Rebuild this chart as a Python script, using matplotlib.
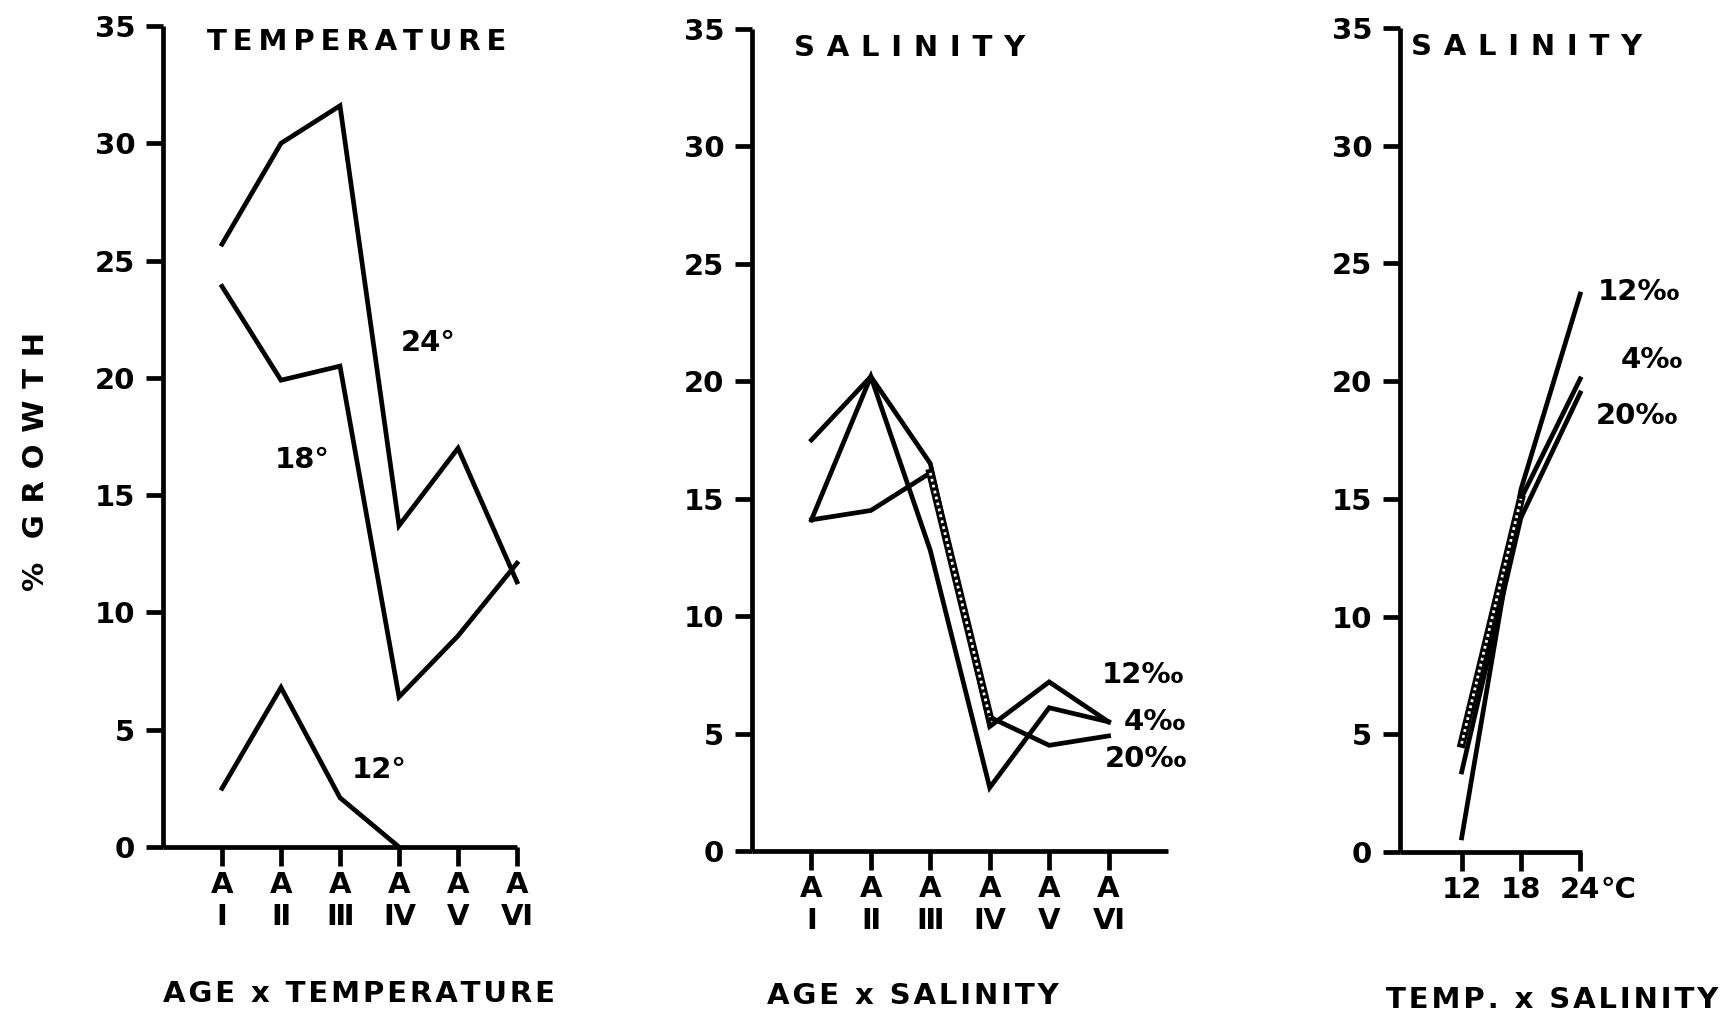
import matplotlib
matplotlib.use('Agg')
import matplotlib.pyplot as plt

plt.rcParams['font.family'] = ['DejaVu Sans']
plt.rcParams['font.weight'] = 'bold'
plt.rcParams['axes.labelweight'] = 'bold'

# Panel 1: age x temperature (% growth)
ages = ['A\n\u2160', 'A\n\u2161', 'A\n\u2162', 'A\n\u2163', 'A\n\u2164', 'A\n\u2165']
temp_24 = [25.7, 30.0, 31.6, 13.7, 17.0, 11.3]
temp_18 = [23.9, 19.9, 20.5, 6.4, 9.0, 12.1]
temp_12 = [2.5, 6.8, 2.1, 0.0]

# Panel 2: age x salinity
sal_12 = [17.5, 20.2, 16.5, 5.3, 7.2, 5.5]
sal_4 = [14.1, 20.2, 12.8, 2.7, 6.1, 5.5]
sal_20 = [14.1, 14.5, 16.1, 5.7, 4.5, 4.9]

# Panel 3: temperature x salinity
temps = ['12', '18', '24']
ts_12 = [0.6, 15.4, 23.7]
ts_4 = [4.6, 15.0, 20.1]
ts_20 = [3.4, 14.2, 19.5]

yticks = [0, 5, 10, 15, 20, 25, 30, 35]

W, H = 1726, 1016
LW = 3.4
FS = 21
THIN = '\u2009'
HAIR = '\u200a'


def spaced(s, sep=THIN):
    return sep.join(s)


def axes_px(fig, x0, x1, ybot, ytop):
    # place an axes by pixel edges of the 1726x1016 canvas
    return fig.add_axes([x0 / W, (H - ybot) / H, (x1 - x0) / W, (ybot - ytop) / H])


def setup(ax, xlim, nticks, labels):
    for side in ['top', 'right']:
        ax.spines[side].set_visible(False)
    for side in ['left', 'bottom']:
        ax.spines[side].set_linewidth(LW)
        ax.spines[side].set_capstyle('butt')
    ax.set_xlim(*xlim)
    ax.set_ylim(0, 35)
    ax.set_yticks(yticks)
    ax.set_xticks(range(1, nticks + 1))
    ax.set_xticklabels(labels, linespacing=1.2)
    ax.tick_params(axis='y', length=12, width=LW, labelsize=FS, pad=8)
    ax.tick_params(axis='x', length=14, width=LW, labelsize=FS, pad=3)


def line(ax, y, stipple=None):
    x = list(range(1, len(y) + 1))
    ax.plot(x, y, color='black', lw=LW, solid_joinstyle='miter', clip_on=False)
    if stipple is not None:
        i, j = stipple
        ax.plot(x[i:j + 1], y[i:j + 1], color='black', lw=LW + 2.4, clip_on=False)
        ax.plot(x[i:j + 1], y[i:j + 1], color='white', lw=2.0,
                ls=(0, (1.0, 1.2)), clip_on=False)


fig = plt.figure(figsize=(W / 100, H / 100), dpi=100)

# ---- panel 1 ----
ax1 = axes_px(fig, 163, 517, 847, 26)
setup(ax1, (0, 6), 6, ages)
line(ax1, temp_24)
line(ax1, temp_18)
line(ax1, temp_12)
ax1.text(0.75, 34.3, spaced('TEMPERATURE'), fontsize=FS, va='center', ha='left')
ax1.text(4.5, 21.5, '24°', fontsize=FS, ha='center', va='center')
ax1.text(2.36, 16.5, '18°', fontsize=FS, ha='center', va='center')
ax1.text(3.67, 3.3, '12°', fontsize=FS, ha='center', va='center')
ax1.set_ylabel('%' + THIN * 4 + spaced('GROWTH', THIN * 2), fontsize=FS)
ax1.yaxis.set_label_coords(-0.32, 0.47)

# ---- panel 2 ----
ax2 = axes_px(fig, 752, 1168, 851, 29)
setup(ax2, (0, 7), 6, ages)
line(ax2, sal_12)
line(ax2, sal_4)
line(ax2, sal_20, stipple=(2, 3))
ax2.text(0.7, 34.2, spaced('SALINITY', THIN * 2), fontsize=FS, va='center', ha='left')
ax2.text(5.89, 7.5, '12‰', fontsize=FS, va='center', ha='left')
ax2.text(6.26, 5.5, '4‰', fontsize=FS, va='center', ha='left')
ax2.text(5.94, 3.9, '20‰', fontsize=FS, va='center', ha='left')

# ---- panel 3 ----
ax3 = axes_px(fig, 1400, 1582, 852, 28)
setup(ax3, (-0.04, 3.03), 3, temps)
line(ax3, ts_12)
line(ax3, ts_4, stipple=(0, 1))
line(ax3, ts_20)
ax3.text(0.15, 34.2, spaced('SALINITY', THIN * 2), fontsize=FS, va='center', ha='left')
ax3.annotate('°C', xy=(3, 0), xycoords=('data', 'axes fraction'),
             xytext=(0.68 * FS, -17), textcoords='offset points',
             fontsize=FS, ha='left', va='top')
ax3.text(3.30, 23.8, '12‰', fontsize=FS, va='center', ha='left')
ax3.text(3.69, 20.9, '4‰', fontsize=FS, va='center', ha='left')
ax3.text(3.27, 18.5, '20‰', fontsize=FS, va='center', ha='left')

# bottom captions
fig.text(359 / W, 1 - 994 / H, spaced('AGE x TEMPERATURE', HAIR),
         fontsize=FS, ha='center', va='center')
fig.text(913 / W, 1 - 996 / H, spaced('AGE x SALINITY', HAIR),
         fontsize=FS, ha='center', va='center')
fig.text(1552 / W, 1 - 1000 / H, spaced('TEMP. x SALINITY', HAIR),
         fontsize=FS, ha='center', va='center')

fig.savefig('out.png', dpi=100)
